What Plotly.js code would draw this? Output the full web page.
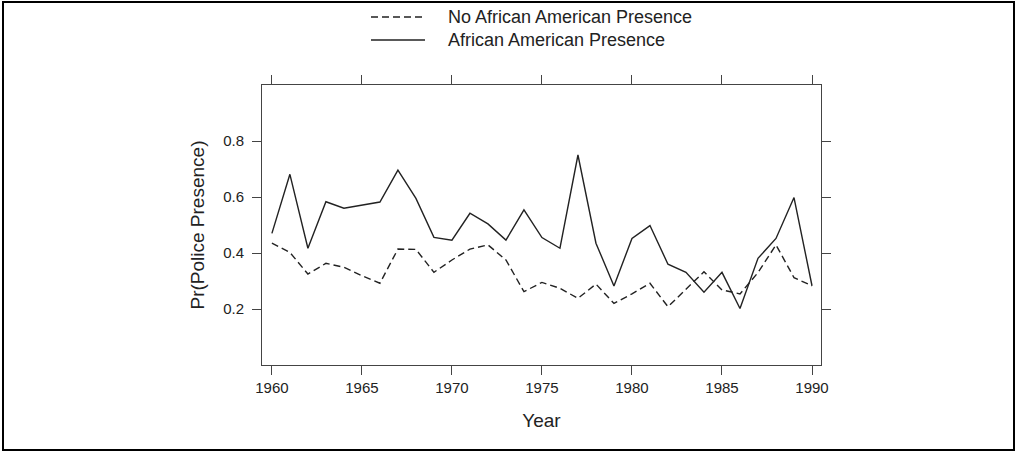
<!DOCTYPE html>
<html>
<head>
<meta charset="utf-8">
<script src="https://cdn.plot.ly/plotly-3.0.1.min.js"></script>
<style>
  html, body { margin: 0; padding: 0; background: #fff; }
  #chart { position: absolute; left: 0; top: 0; width: 1017px; height: 452px; }
  #frame { position: absolute; left: 2px; top: 1px; width: 1013px; height: 450px;
           box-sizing: border-box; border: 2px solid #000; pointer-events: none; }
</style>
</head>
<body>
<div id="chart"></div>
<div id="frame"></div>
<script>
// Data
const years = [1960,1961,1962,1963,1964,1965,1966,1967,1968,1969,1970,1971,1972,1973,1974,1975,
               1976,1977,1978,1979,1980,1981,1982,1983,1984,1985,1986,1987,1988,1989,1990];
const noPresence = [0.435,0.402,0.325,0.363,0.349,0.319,0.292,0.414,0.413,0.331,0.375,0.414,0.429,0.375,0.262,0.295,
                    0.274,0.238,0.289,0.220,0.254,0.292,0.208,0.272,0.333,0.268,0.254,0.330,0.429,0.312,0.283];
const presence = [0.470,0.681,0.417,0.583,0.560,0.570,0.582,0.696,0.595,0.456,0.446,0.542,0.504,0.446,0.554,0.455,
                  0.417,0.750,0.435,0.282,0.452,0.498,0.360,0.331,0.260,0.331,0.202,0.381,0.452,0.598,0.283];
const seriesNames = ["No African American Presence", "African American Presence"];
const xTicks = [1960,1965,1970,1975,1980,1985,1990];
const yTicks = [0.2,0.4,0.6,0.8];
const yTickText = ["0.2","0.4","0.6","0.8"];

const lineColor = "#222";
const axisColor = "#444";
const font = "Liberation Sans, Arial, Helvetica, sans-serif";

const traces = [
  { x: years, y: noPresence, name: seriesNames[0], type: "scatter", mode: "lines",
    line: { color: lineColor, width: 1.4, dash: "7px,4px" }, showlegend: false },
  { x: years, y: presence, name: seriesNames[1], type: "scatter", mode: "lines",
    line: { color: lineColor, width: 1.4 }, showlegend: false }
];

// Legend drawn as shapes + text annotations (paper coordinates)
const L = 262, R = 821, T = 85, B = 365;
const px = v => (v - L) / (R - L);
const py = v => (B - v) / (B - T);
const legendRows = [17, 40];
const legendDash = ["7px,4px", "solid"];

const shapes = legendRows.map((yy, i) => ({
  type: "line", xref: "paper", yref: "paper",
  x0: px(371), x1: px(425), y0: py(yy), y1: py(yy),
  line: { color: lineColor, width: 1.4, dash: legendDash[i] }
}));
const annotations = legendRows.map((yy, i) => ({
  xref: "paper", yref: "paper", x: px(446), y: py(yy),
  xanchor: "left", yanchor: "middle", showarrow: false,
  text: seriesNames[i], font: { family: font, size: 18, color: "#222" }
}));

const layout = {
  width: 1017, height: 452,
  margin: { l: L, r: 1017 - R, t: T, b: 452 - B, pad: 0 },
  paper_bgcolor: "rgba(0,0,0,0)", plot_bgcolor: "#fff",
  font: { family: font, color: "#222" },
  showlegend: false,
  xaxis: {
    range: [1959.45, 1990.5], tickvals: xTicks, ticktext: xTicks.map(String),
    ticks: "outside", ticklen: 9, tickwidth: 1, tickcolor: axisColor,
    showline: true, linecolor: axisColor, linewidth: 1, mirror: "ticks",
    showgrid: false, zeroline: false,
    tickfont: { family: font, size: 15, color: "#222" },
    title: { text: "Year", font: { family: font, size: 19, color: "#222" }, standoff: 18 }
  },
  yaxis: {
    range: [0, 1], tickvals: yTicks, ticktext: yTickText,
    ticks: "outside", ticklen: 9, tickwidth: 1, tickcolor: axisColor,
    ticklabelstandoff: 5,
    showline: true, linecolor: axisColor, linewidth: 1, mirror: "ticks",
    showgrid: false, zeroline: false,
    tickfont: { family: font, size: 15, color: "#222" },
    title: { text: "Pr(Police Presence)", font: { family: font, size: 19, color: "#222" }, standoff: 13 }
  },
  shapes: shapes,
  annotations: annotations
};

Plotly.newPlot("chart", traces, layout, { staticPlot: true, displayModeBar: false });
</script>
</body>
</html>
